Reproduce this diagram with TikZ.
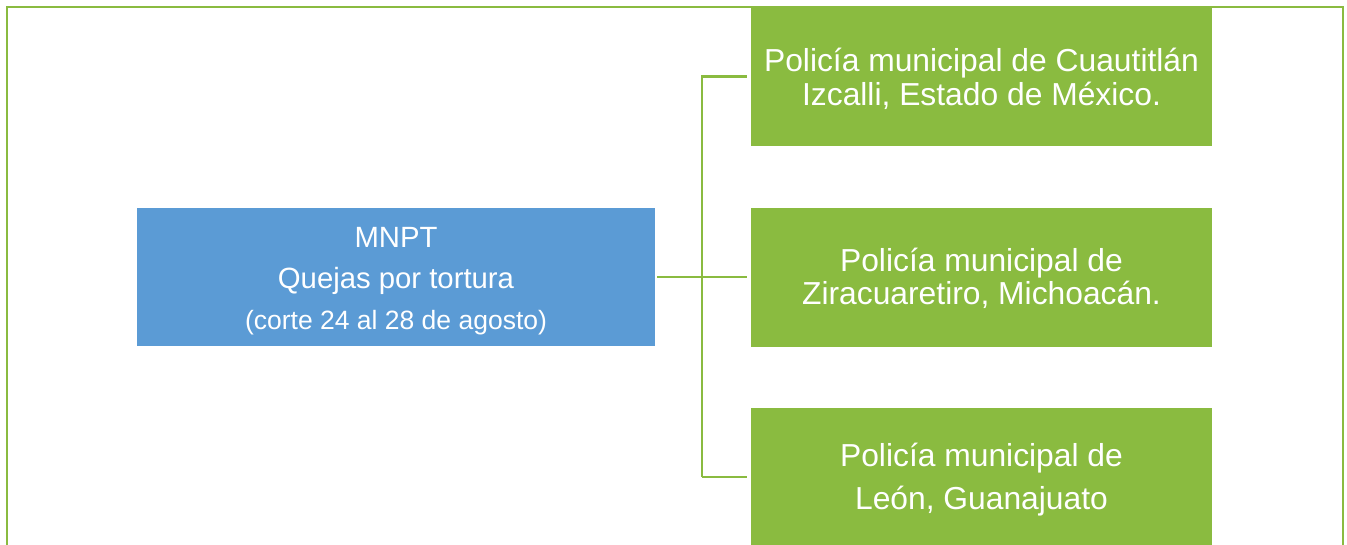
\documentclass[tikz,border=0pt]{standalone}
\usepackage{fontspec}
\setmainfont{Liberation Sans}
\definecolor{ogreen}{RGB}{138,187,64}
\definecolor{oblue}{RGB}{91,155,213}
\begin{document}
\begin{tikzpicture}[x=1pt,y=-1pt,
  gbox/.style={fill=ogreen,draw=none,minimum width=461pt,minimum height=139pt,inner sep=0pt},
  bbox/.style={fill=oblue,draw=none,minimum width=518pt,minimum height=138pt,inner sep=0pt},
  gtxt/.style={text=white,anchor=base,inner sep=0pt,font=\fontsize{31.8}{36}\selectfont},
  btxt/.style={text=white,anchor=base,inner sep=0pt,font=\fontsize{29.3}{34}\selectfont},
  stxt/.style={text=white,anchor=base,inner sep=0pt,font=\fontsize{26.5}{30}\selectfont},
  conn/.style={draw=ogreen,line width=2.8pt},
  frame/.style={draw=ogreen,line width=2pt}]
\useasboundingbox (0,0) rectangle (1347,544);
% frame
\draw[frame] (7,560) -- (7,6.5) -- (1342.5,6.5) -- (1342.5,560);
% boxes
\node[bbox] (blue) at (396,277) {};
\node[gbox] (g1) at (981.5,76.5) {};
\node[gbox] (g2) at (981.5,277) {};
\node[gbox] (g3) at (981.5,477) {};
% texts
\node[btxt] (t1) at (396,247) {MNPT};
\node[btxt] (t2) at (396,288) {Quejas por tortura};
\node[stxt] (t3) at (396,329) {(corte 24 al 28 de agosto)};
\node[gtxt] (a1) at (981.5,71) {Policía municipal de Cuautitlán};
\node[gtxt] (a2) at (981.5,105) {Izcalli, Estado de México.};
\node[gtxt] (b1) at (981.5,271) {Policía municipal de};
\node[gtxt] (b2) at (981.5,304) {Ziracuaretiro, Michoacán.};
\node[gtxt] (c1) at (981.5,466) {Policía municipal de};
\node[gtxt] (c2) at (981.5,509) {León, Guanajuato};
% connectors
\coordinate (jm) at (702,277);
\coordinate (jt) at (702,76.5);
\coordinate (jb) at (702,477);
\draw[conn,shorten <=2pt] (blue.east) -- (jm);
\draw[conn,shorten >=3.5pt] (jm) -- (g2.west);
\draw[conn,line width=2.4pt,shorten >=3.5pt] (jb) -- (jt) -- (g1.west);
\draw[conn,shorten >=3.5pt] (jb) -- (g3.west);
\end{tikzpicture}
\end{document}
